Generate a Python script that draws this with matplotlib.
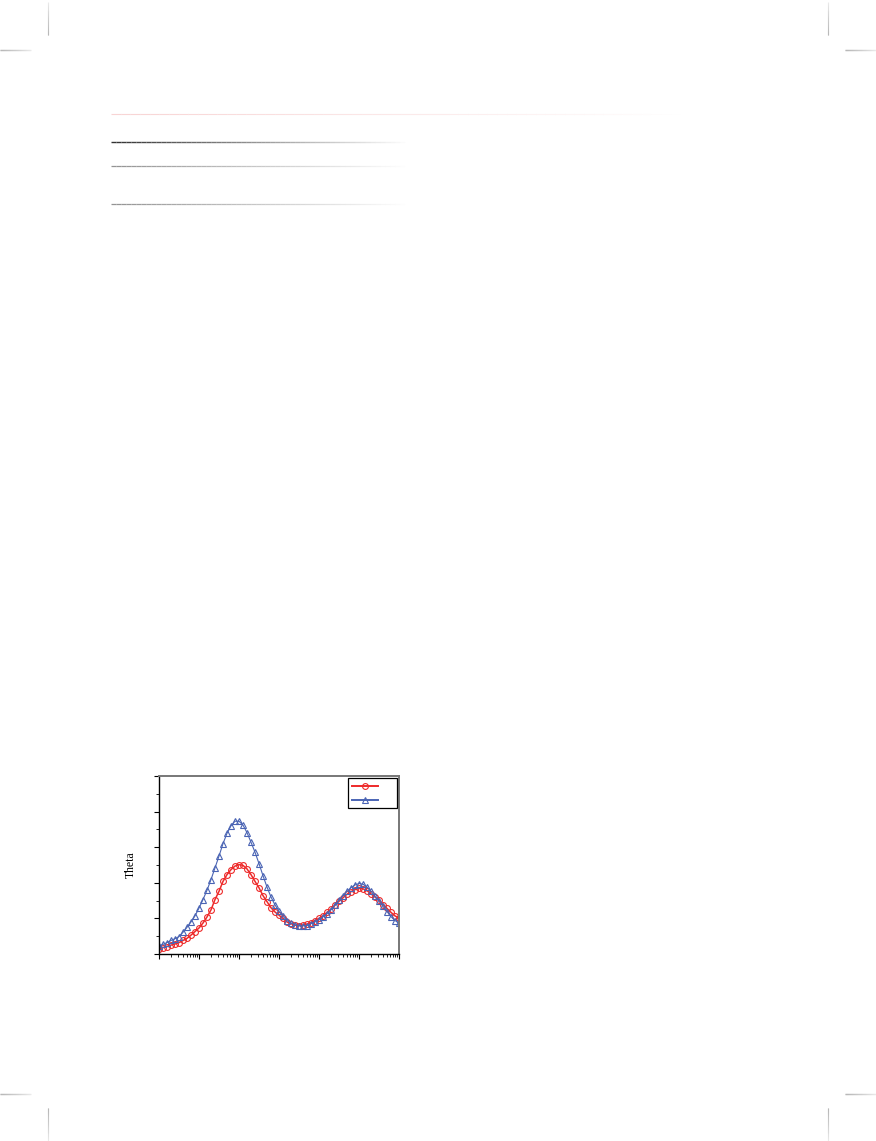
import numpy as np
import matplotlib
matplotlib.use('Agg')
import matplotlib.pyplot as plt
from matplotlib.collections import LineCollection
from matplotlib.ticker import LogLocator, MultipleLocator, NullFormatter

W, H = 876, 1141

# frequency grid, 10 points per decade
freq = np.logspace(0, 6, 61)

# Theta values
theta_red = [0.15, 0.18, 0.21, 0.25, 0.28, 0.32, 0.38, 0.44, 0.53, 0.63,
             0.73, 0.87, 1.04, 1.24, 1.53, 1.76, 2.04, 2.23, 2.37, 2.47,
             2.51, 2.49, 2.39, 2.23, 2.04, 1.86, 1.64, 1.47, 1.30, 1.18,
             1.09, 1.00, 0.90, 0.85, 0.81, 0.80, 0.81, 0.84, 0.88, 0.94,
             1.00, 1.07, 1.17, 1.26, 1.37, 1.48, 1.58, 1.68, 1.75, 1.81,
             1.84, 1.83, 1.78, 1.69, 1.60, 1.51, 1.39, 1.28, 1.17, 1.07,
             1.01]
theta_blue = [0.23, 0.27, 0.32, 0.38, 0.43, 0.49, 0.61, 0.75, 0.90, 1.07,
              1.29, 1.53, 1.79, 2.09, 2.42, 2.75, 3.10, 3.39, 3.60, 3.73,
              3.73, 3.62, 3.41, 3.14, 2.86, 2.54, 2.20, 1.88, 1.60, 1.38,
              1.20, 1.06, 0.94, 0.87, 0.82, 0.79, 0.79, 0.80, 0.85, 0.90,
              0.96, 1.04, 1.13, 1.24, 1.37, 1.51, 1.64, 1.76, 1.86, 1.94,
              1.98, 1.96, 1.88, 1.76, 1.62, 1.48, 1.34, 1.19, 1.05, 0.94,
              0.87]

fig = plt.figure(figsize=(W / 100, H / 100), dpi=100)


def px(x, y):
    return x / W, 1 - y / H


def fade_line(x0, y0, x1, y1, color, lw=1.0, n=60, a0=1.0, a1=0.0):
    # line that fades out along its length, like the scanned page
    xs = np.linspace(x0, x1, n + 1)
    ys = np.linspace(y0, y1, n + 1)
    segs = [[px(xs[i], ys[i]), px(xs[i + 1], ys[i + 1])] for i in range(n)]
    alphas = np.linspace(a0, a1, n)
    cols = [matplotlib.colors.to_rgba(color, a) for a in alphas]
    lc = LineCollection(segs, colors=cols, linewidths=lw,
                        transform=fig.transFigure)
    fig.add_artist(lc)


# crop marks
fade_line(48, 2, 48, 35, '#999999', lw=0.8, a0=0.2, a1=0.9)
fade_line(828, 2, 828, 35, '#999999', lw=0.8, a0=0.2, a1=0.9)
fade_line(0, 50, 31, 50, '#999999', lw=1.0, a0=0.9, a1=0.2)
fade_line(876, 50, 845, 50, '#999999', lw=1.0, a0=0.2, a1=0.9)
fade_line(0, 1094, 31, 1094, '#999999', lw=1.0, a0=0.9, a1=0.2)
fade_line(876, 1094, 845, 1094, '#999999', lw=1.0, a0=0.2, a1=0.9)
fade_line(48, 1108, 48, 1141, '#999999', lw=0.8, a0=0.9, a1=0.2)
fade_line(828, 1108, 828, 1141, '#999999', lw=0.8, a0=0.9, a1=0.2)

# faded rules at the top of the page
fade_line(111, 114, 690, 114, '#f4b8b8', lw=0.8, a0=0.6, a1=0.0)
fade_line(111, 142, 410, 142, '#333333', lw=1.0, a0=1.0, a1=0.0)
fade_line(111, 166, 410, 166, '#888888', lw=0.9, a0=0.9, a1=0.0)
fade_line(111, 204, 410, 204, '#888888', lw=0.9, a0=0.9, a1=0.0)

# the chart
l, b = px(159, 954)
r, t = px(399, 776)
ax = fig.add_axes([l, b, r - l, t - b])

red = '#ee2a2a'
blue = '#4a64b4'
h_red, = ax.plot(freq, theta_red, '-o', color=red, lw=1.1, ms=4.2,
                 mfc='none', mew=0.8)
h_blue, = ax.plot(freq, theta_blue, '-^', color=blue, lw=0.8, ms=4.6,
                  mfc='none', mew=0.8)

ax.set_xscale('log')
ax.set_xlim(1, 1e6)
ax.set_ylim(0, 5)
ax.xaxis.set_major_locator(LogLocator(base=10, numticks=10))
ax.xaxis.set_minor_locator(LogLocator(base=10, subs=np.arange(2, 10), numticks=20))
ax.xaxis.set_major_formatter(NullFormatter())
ax.xaxis.set_minor_formatter(NullFormatter())
ax.yaxis.set_major_locator(MultipleLocator(1))
ax.yaxis.set_minor_locator(MultipleLocator(0.5))
ax.yaxis.set_major_formatter(NullFormatter())
ax.tick_params(which='major', direction='out', length=3.5, width=0.8)
ax.tick_params(which='minor', direction='out', length=2, width=0.6)

for side in ['left', 'bottom']:
    ax.spines[side].set_color('black')
    ax.spines[side].set_linewidth(1.0)
for side in ['top', 'right']:
    ax.spines[side].set_color('#777777')
    ax.spines[side].set_linewidth(1.4)

ax.set_ylabel('Theta', fontfamily='Liberation Serif', fontsize=8.5, labelpad=9)

leg = ax.legend([h_red, h_blue], ['', ''], loc='upper right', fontsize=6,
                handlelength=3.2, handletextpad=1.8, borderpad=0.45,
                fancybox=False, framealpha=1, borderaxespad=0.25,
                labelspacing=0.55)
leg.get_frame().set_edgecolor('black')
leg.get_frame().set_linewidth(0.9)
for line in leg.get_lines():
    line.set_linewidth(1.4)

fig.savefig('out.png', dpi=100)
